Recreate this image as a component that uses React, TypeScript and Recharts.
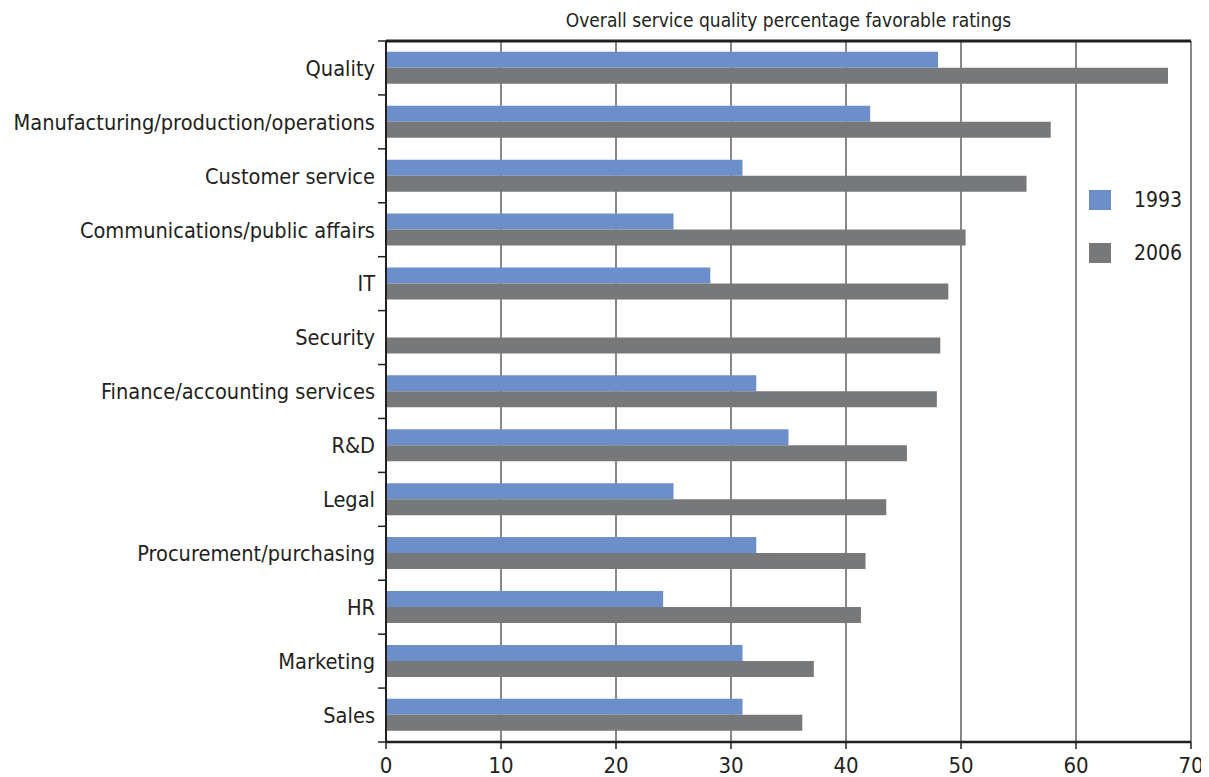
import React from 'react';
import { BarChart, Bar, XAxis, YAxis, CartesianGrid, Legend, ReferenceLine } from 'recharts';

const categories = [
  'Quality',
  'Manufacturing/production/operations',
  'Customer service',
  'Communications/public affairs',
  'IT',
  'Security',
  'Finance/accounting services',
  'R&D',
  'Legal',
  'Procurement/purchasing',
  'HR',
  'Marketing',
  'Sales',
];
const values1993: (number | null)[] = [48, 42.1, 31, 25, 28.2, null, 32.2, 35, 25, 32.2, 24.1, 31, 31];
const values2006: number[] = [68, 57.8, 55.7, 50.4, 48.9, 48.2, 47.9, 45.3, 43.5, 41.7, 41.3, 37.2, 36.2];
const xTicks = [0, 10, 20, 30, 40, 50, 60, 70];
const title = 'Overall service quality percentage favorable ratings';

const data = categories.map((name, i) => ({ name, y1993: values1993[i], y2006: values2006[i] }));

const FONT = '"DejaVu Sans Condensed", "DejaVu Sans", sans-serif';
const INK = '#231f20';
const BLUE = '#6c8fc9';
const GRAY = '#77787a';

const CategoryTick = (props: any) => {
  const { x, y, payload, index, visibleTicksCount } = props;
  const half = payload && typeof payload.offset === 'number' ? payload.offset : 0;
  const isLast = index === (visibleTicksCount ?? categories.length) - 1;
  return (
    <g>
      <text
        x={x}
        y={y}
        dy="0.36em"
        textAnchor="end"
        fill={INK}
        style={{ fontFamily: FONT, fontSize: 21.6, fontStretch: 'condensed' }}
      >
        {payload.value}
      </text>
      <line x1={x + 3} x2={x + 12} y1={y - half} y2={y - half} stroke={INK} strokeWidth={1.5} />
      {isLast && <line x1={x + 3} x2={x + 12} y1={y + half} y2={y + half} stroke={INK} strokeWidth={1.5} />}
    </g>
  );
};

const LegendContent = (props: any) => {
  const { payload } = props;
  return (
    <div style={{ fontFamily: FONT, fontSize: 21, fontStretch: 'condensed', color: INK }}>
      {(payload || []).map((p: any) => (
        <div key={p.value} style={{ display: 'flex', alignItems: 'center', height: 53 }}>
          <span style={{ display: 'inline-block', width: 22, height: 20, background: p.color }} />
          <span style={{ marginLeft: 23 }}>{p.value}</span>
        </div>
      ))}
    </div>
  );
};

export default function App() {
  return (
    <div style={{ width: 1200, height: 769 }}>
      <BarChart
        width={1200}
        height={769}
        data={data}
        layout="vertical"
        margin={{ top: 33, right: 17, bottom: 0, left: 0 }}
        barCategoryGap="20%"
        barGap={0}
      >
        <CartesianGrid horizontal={false} vertical stroke="#383838" strokeWidth={1.2} />
        <XAxis
          type="number"
          domain={[0, 70]}
          ticks={xTicks}
          interval={0}
          height={35}
          axisLine={{ stroke: INK, strokeWidth: 2.5 }}
          tickLine={{ stroke: INK, strokeWidth: 1.5 }}
          tickSize={7}
          tickMargin={8}
          tick={{ fontSize: 22, fill: INK, fontFamily: FONT, style: { fontStretch: 'condensed' } }}
        />
        <YAxis
          type="category"
          dataKey="name"
          width={378}
          interval={0}
          axisLine={{ stroke: INK, strokeWidth: 2 }}
          tickLine={false}
          tickSize={0}
          tickMargin={11}
          tick={<CategoryTick />}
        />
        <ReferenceLine
          y={categories[0]}
          position="start"
          stroke={INK}
          strokeWidth={3}
          ifOverflow="visible"
          label={{
            value: title,
            position: 'top',
            offset: 14,
            fontSize: 19,
            fontFamily: FONT,
            fill: INK,
            style: { fontStretch: 'condensed' },
          }}
        />
        <Legend
          layout="vertical"
          align="center"
          verticalAlign="middle"
          wrapperStyle={{ left: 1081, top: 165, width: 110 }}
          content={<LegendContent />}
        />
        <Bar dataKey="y1993" name="1993" fill={BLUE} isAnimationActive={false} />
        <Bar dataKey="y2006" name="2006" fill={GRAY} isAnimationActive={false} />
      </BarChart>
    </div>
  );
}
